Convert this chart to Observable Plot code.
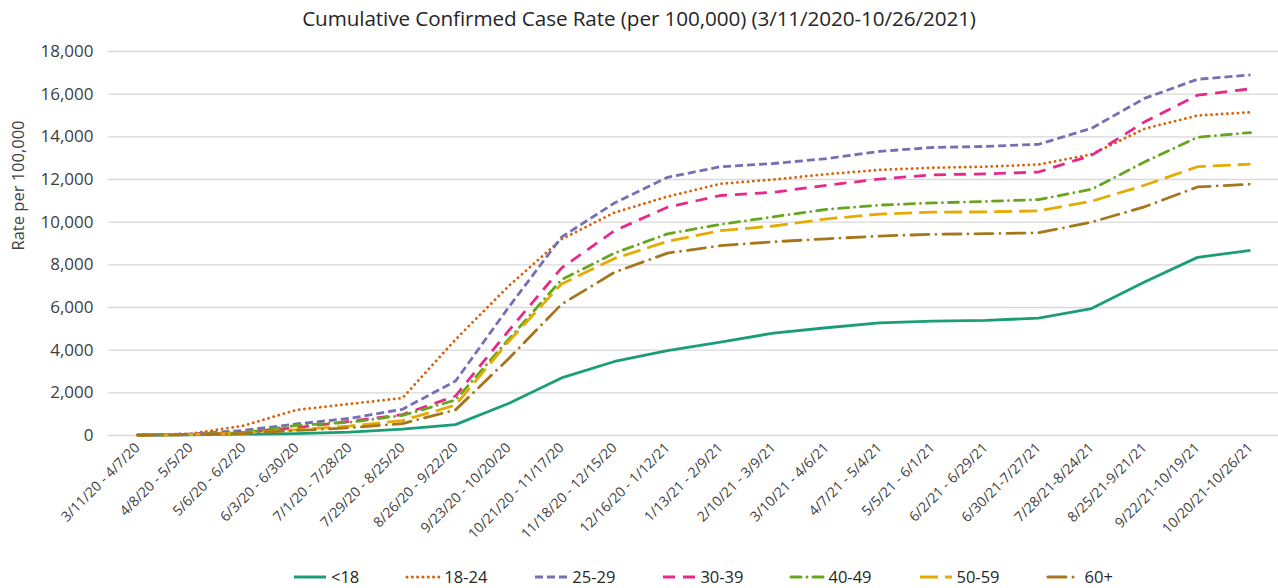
<!DOCTYPE html>
<html><head><meta charset="utf-8">
<script src="https://cdn.jsdelivr.net/npm/d3@7"></script>
<script src="https://cdn.jsdelivr.net/npm/@observablehq/plot@0.6"></script>
<style>
body{margin:0;background:#fff;font-family:"Open Sans",sans-serif;width:1278px;height:588px;overflow:hidden;position:relative;}
#title{height:36px;line-height:36px;text-align:center;font-size:20.7px;color:#262626;white-space:nowrap;letter-spacing:-0.1px;}
#legend{position:absolute;top:565px;left:292px;display:flex;align-items:center;font-size:16.5px;color:#262626;}
#legend .item{display:flex;align-items:center;margin-right:46px;}
#legend svg{margin-right:3px;}
</style>
</head><body>
<div id="title">Cumulative Confirmed Case Rate (per 100,000) (3/11/2020-10/26/2021)</div>
<div id="chart"></div>
<div id="legend"></div>
<script>
const periods = ["3/11/20 - 4/7/20","4/8/20 - 5/5/20","5/6/20 - 6/2/20","6/3/20 - 6/30/20","7/1/20 - 7/28/20","7/29/20 - 8/25/20","8/26/20 - 9/22/20","9/23/20 - 10/20/20","10/21/20 - 11/17/20","11/18/20 - 12/15/20","12/16/20 - 1/12/21","1/13/21 - 2/9/21","2/10/21 - 3/9/21","3/10/21 - 4/6/21","4/7/21 - 5/4/21","5/5/21 - 6/1/21","6/2/21 - 6/29/21","6/30/21-7/27/21","7/28/21-8/24/21","8/25/21-9/21/21","9/22/21-10/19/21","10/20/21-10/26/21"];
const seriesNames = ["<18","18-24","25-29","30-39","40-49","50-59","60+"];
const lt18   = [10,30,60,90,160,300,510,1500,2700,3470,3980,4380,4800,5050,5280,5360,5400,5500,5950,7200,8350,8680];
const a18_24 = [30,80,460,1200,1480,1760,4500,7000,9200,10450,11200,11800,12000,12250,12450,12550,12600,12700,13180,14380,15000,15150];
const a25_29 = [20,70,240,540,800,1230,2550,6000,9300,10900,12100,12600,12750,12980,13320,13500,13550,13650,14400,15800,16700,16900];
const a30_39 = [20,50,150,370,660,980,1850,4900,7850,9600,10700,11250,11400,11730,12020,12220,12260,12350,13130,14700,15950,16250];
const a40_49 = [20,50,130,470,620,940,1660,4500,7300,8550,9450,9900,10250,10600,10800,10900,10970,11060,11540,12820,13980,14200];
const a50_59 = [20,40,110,270,440,700,1420,4400,7100,8300,9100,9600,9820,10150,10380,10470,10480,10530,10980,11730,12600,12720];
const a60p   = [20,40,100,235,360,560,1200,3600,6150,7650,8550,8900,9080,9220,9350,9430,9460,9500,10000,10720,11650,11780];
const yTicks = [0,2000,4000,6000,8000,10000,12000,14000,16000,18000];
const yLabel = "Rate per 100,000";

const seriesValues = [lt18,a18_24,a25_29,a30_39,a40_49,a50_59,a60p];
const colors = ["#1b9e77","#d95f02","#7570b3","#e7298a","#66a61e","#e6ab02","#a6761d"];
const dashes = [null,"0.01 5.3","8 4","12 8","10 6 0.01 6","18 7","18 7 0.01 7"];

const rows = seriesNames.map((s,k)=>periods.map((p,i)=>({period:p, value:seriesValues[k][i], series:s})));

const lineMarks = rows.map((r,k)=>Plot.line(r,{x:"period",y:"value",stroke:colors[k],strokeWidth:2.8,
  strokeDasharray:dashes[k]||undefined,strokeLinecap:dashes[k]&&dashes[k].includes("0.01")?"round":"butt",strokeLinejoin:"round"}));

const chart = Plot.plot({
  width:1278,height:520,marginTop:15,marginBottom:121,marginLeft:108,marginRight:0,
  style:{fontFamily:"'Open Sans',sans-serif",color:"#404040",background:"#fff"},
  x:{type:"point",domain:periods,padding:0.5},
  y:{domain:[0,18000]},
  marks:[
    Plot.gridY(yTicks,{stroke:"#d9d9d9",strokeOpacity:1,strokeWidth:1.3}),
    Plot.axisY(yTicks,{tickSize:0,tickPadding:15,tickFormat:d3.format(","),fontSize:17,label:null}),
    Plot.axisX({tickSize:0,tickRotate:-45,tickPadding:10,fontSize:14,label:null}),
    Plot.text([yLabel],{frameAnchor:"left",rotate:-90,dx:-90,dy:7,fontSize:16.5,fill:"#404040"}),
    ...lineMarks
  ]
});
document.getElementById("chart").appendChild(chart);

const leg = document.getElementById("legend");
seriesNames.forEach((s,k)=>{
  const it = document.createElement("div"); it.className="item";
  const dash = dashes[k];
  const cap = dash&&dash.includes("0.01")?"round":"butt";
  it.innerHTML = `<svg width="36" height="10"><line x1="2" x2="34" y1="5" y2="5" stroke="${colors[k]}" stroke-width="3" ${dash?`stroke-dasharray="${dash}"`:""} stroke-linecap="${cap}"/></svg><span>${s.replace("<","&lt;")}</span>`;
  leg.appendChild(it);
});
</script>
</body></html>
